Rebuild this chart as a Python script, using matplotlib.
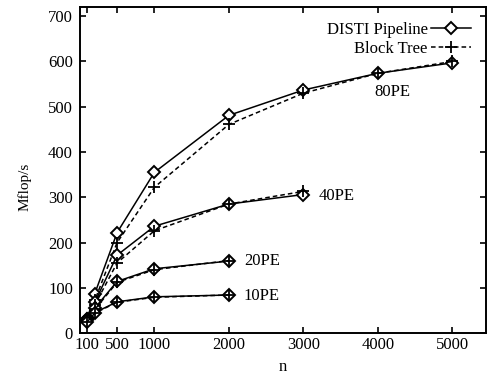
"""
DISTI Pipeline vs Block Tree throughput for several PE counts.
"""

import matplotlib
matplotlib.use('Agg')
import matplotlib.pyplot as plt

plt.rcParams['font.family'] = ['Liberation Serif', 'DejaVu Serif']

# problem sizes
n_80 = [100, 200, 500, 1000, 2000, 3000, 4000, 5000]
n_40 = [100, 200, 500, 1000, 2000, 3000]
n_20 = [100, 200, 500, 1000, 2000]
n_10 = [100, 200, 500, 1000, 2000]

# Mflop/s, DISTI pipeline
disti_80 = [32, 87, 222, 355, 481, 537, 574, 597]
disti_40 = [30, 68, 172, 236, 285, 306]
disti_20 = [28, 55, 114, 142, 159]
disti_10 = [25, 45, 69, 80, 84]

# Mflop/s, block tree
block_80 = [32, 72, 200, 322, 461, 530, 574, 600]
block_40 = [30, 62, 155, 226, 285, 313]
block_20 = [28, 52, 112, 140, 160]
block_10 = [25, 44, 68, 79, 84]

pe_labels = ['80PE', '40PE', '20PE', '10PE']
label_pos = [(3950, 532), (3200, 303), (2200, 160), (2200, 82)]

xticks = [100, 500, 1000, 2000, 3000, 4000, 5000]
yticks = [0, 100, 200, 300, 400, 500, 600, 700]

FS = 12

fig = plt.figure(figsize=(4.87, 3.78), dpi=100)
ax = fig.add_axes([0.164, 0.119, 0.834, 0.862])

disti_style = dict(color='black', linestyle='-', linewidth=1.1, marker='D',
                   markersize=6, markerfacecolor='white', markeredgewidth=1.4)
block_style = dict(color='black', linestyle=(0, (3, 2)), linewidth=1.1,
                   marker='+', markersize=8, markeredgewidth=1.3)

series = [(n_80, disti_80, block_80), (n_40, disti_40, block_40),
          (n_20, disti_20, block_20), (n_10, disti_10, block_10)]

for i, (n, d, b) in enumerate(series):
    ax.plot(n, d, label='DISTI Pipeline' if i == 0 else None, **disti_style)
    ax.plot(n, b, label='Block Tree' if i == 0 else None, **block_style)

for txt, (x, y) in zip(pe_labels, label_pos):
    ax.text(x, y, txt, fontsize=FS, ha='left', va='center')

ax.set_xlim(0, 5450)
ax.set_ylim(0, 720)
ax.set_xticks(xticks)
ax.set_yticks(yticks)
ax.tick_params(direction='in', top=True, right=True, labelsize=FS,
               length=4, width=1.2)
ax.tick_params(axis='x', pad=3)
ax.tick_params(axis='y', pad=5)
for s in ax.spines.values():
    s.set_linewidth(1.4)

ax.set_xlabel('n', fontsize=FS)
ax.xaxis.set_label_coords(0.5, -0.08)
ax.set_ylabel('Mflop/s', fontsize=FS - 1)
ax.yaxis.set_label_coords(-0.12, 0.45)

ax.legend(loc='upper right', frameon=False, markerfirst=False, fontsize=FS,
          handlelength=2.4, handletextpad=0.2, borderaxespad=0.3,
          labelspacing=0.15, borderpad=0.6)

fig.savefig('out.png', dpi=100)
